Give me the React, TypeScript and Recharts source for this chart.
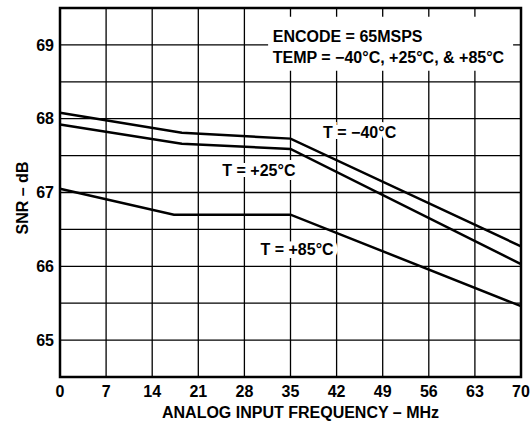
import React from "react";
import {
  CartesianGrid,
  Label,
  Line,
  LineChart,
  ReferenceArea,
  ReferenceDot,
  XAxis,
  YAxis
} from "recharts";

// analog input frequency, MHz
const freqM40 = [0, 18.5, 35, 70];
const freqP25 = [0, 18.5, 35, 70];
const freqP85 = [0, 17.3, 35, 70];

// SNR, dB
const snrM40 = [68.08, 67.81, 67.73, 66.27];
const snrP25 = [67.92, 67.66, 67.59, 66.03];
const snrP85 = [67.05, 66.7, 66.7, 65.46];

const xTicks = [0, 7, 14, 21, 28, 35, 42, 49, 56, 63, 70];
const yTicks = [64.5, 65, 65.5, 66, 66.5, 67, 67.5, 68, 68.5, 69, 69.5];

const curveLabels = [
  { x: 45.5, y: 67.81, text: "T = \u221240\u00B0C" },
  { x: 30.2, y: 67.3, text: "T = +25\u00B0C" },
  { x: 36.0, y: 66.23, text: "T = +85\u00B0C" }
];

const noteLines = [
  { x: 32.3, y: 69.12, text: "ENCODE = 65MSPS" },
  { x: 32.3, y: 68.83, text: "TEMP = \u221240\u00B0C, +25\u00B0C, & +85\u00B0C" }
];

const font = "'Liberation Sans', Arial, Helvetica, sans-serif";
const fs = 16;

const toRows = (xs: number[], ys: number[]) =>
  xs.map((f, i) => ({ f, snr: ys[i] }));

export default function App() {
  return (
    <div style={{ position: "absolute", left: 0, top: 0, background: "#fff" }}>
      <LineChart
        width={532}
        height={425}
        margin={{ top: 8, right: 11, bottom: 0, left: 0 }}
        style={{ fontFamily: font }}
      >
        <CartesianGrid stroke="#000" strokeWidth={1.3} />
        <XAxis
          dataKey="f"
          type="number"
          domain={[0, 70]}
          ticks={xTicks}
          allowDuplicatedCategory={false}
          height={48}
          tickSize={0}
          tickMargin={9}
          axisLine={false}
          tick={{ fill: "#000", fontSize: fs, fontWeight: 700 }}
        >
          <Label
            content={({ viewBox }: any) => (
              <text
                x={viewBox.x + viewBox.width / 2 + 10}
                y={viewBox.y + 41}
                textAnchor="middle"
                fontSize={fs}
                fontWeight={700}
                fill="#000"
              >
                ANALOG INPUT FREQUENCY – MHz
              </text>
            )}
          />
        </XAxis>
        <YAxis
          type="number"
          domain={[64.5, 69.5]}
          ticks={yTicks}
          width={60}
          tickSize={0}
          tickMargin={6}
          axisLine={false}
          tickFormatter={(v: number) => (Number.isInteger(v) ? String(v) : "")}
          tick={{ fill: "#000", fontSize: fs, fontWeight: 700 }}
        >
          <Label
            content={({ viewBox }: any) => {
              const cx = viewBox.x + 22.5;
              const cy = viewBox.y + viewBox.height / 2 + 5.5;
              return (
                <text
                  x={cx}
                  y={cy}
                  transform={`rotate(-90 ${cx} ${cy})`}
                  textAnchor="middle"
                  dominantBaseline="central"
                  fontSize={fs}
                  fontWeight={700}
                  fill="#000"
                >
                  SNR – dB
                </text>
              );
            }}
          />
        </YAxis>
        <ReferenceArea
          x1={31.6}
          x2={68.8}
          y1={68.65}
          y2={69.38}
          fill="#fff"
          fillOpacity={1}
          stroke="none"
        />
        <ReferenceArea
          x1={0}
          x2={70}
          y1={64.5}
          y2={69.5}
          fill="none"
          stroke="#000"
          strokeWidth={2.5}
        />
        <Line
          data={toRows(freqM40, snrM40)}
          dataKey="snr"
          type="linear"
          stroke="#000"
          strokeWidth={2.5}
          dot={false}
          isAnimationActive={false}
        />
        <Line
          data={toRows(freqP25, snrP25)}
          dataKey="snr"
          type="linear"
          stroke="#000"
          strokeWidth={2.5}
          dot={false}
          isAnimationActive={false}
        />
        <Line
          data={toRows(freqP85, snrP85)}
          dataKey="snr"
          type="linear"
          stroke="#000"
          strokeWidth={2.5}
          dot={false}
          isAnimationActive={false}
        />
        {curveLabels.map((l) => (
          <ReferenceDot
            key={l.text}
            x={l.x}
            y={l.y}
            r={0}
            shape={(p: any) => (
              <text
                x={p.cx}
                y={p.cy}
                textAnchor="middle"
                dominantBaseline="central"
                fontSize={fs}
                fontWeight={700}
                fill="#000"
                stroke="#fff"
                strokeWidth={8}
                paintOrder="stroke"
              >
                {l.text}
              </text>
            )}
          />
        ))}
        {noteLines.map((l) => (
          <ReferenceDot
            key={l.text}
            x={l.x}
            y={l.y}
            r={0}
            shape={(p: any) => (
              <text
                x={p.cx}
                y={p.cy}
                textAnchor="start"
                dominantBaseline="central"
                fontSize={fs}
                fontWeight={700}
                fill="#000"
              >
                {l.text}
              </text>
            )}
          />
        ))}
      </LineChart>
    </div>
  );
}
